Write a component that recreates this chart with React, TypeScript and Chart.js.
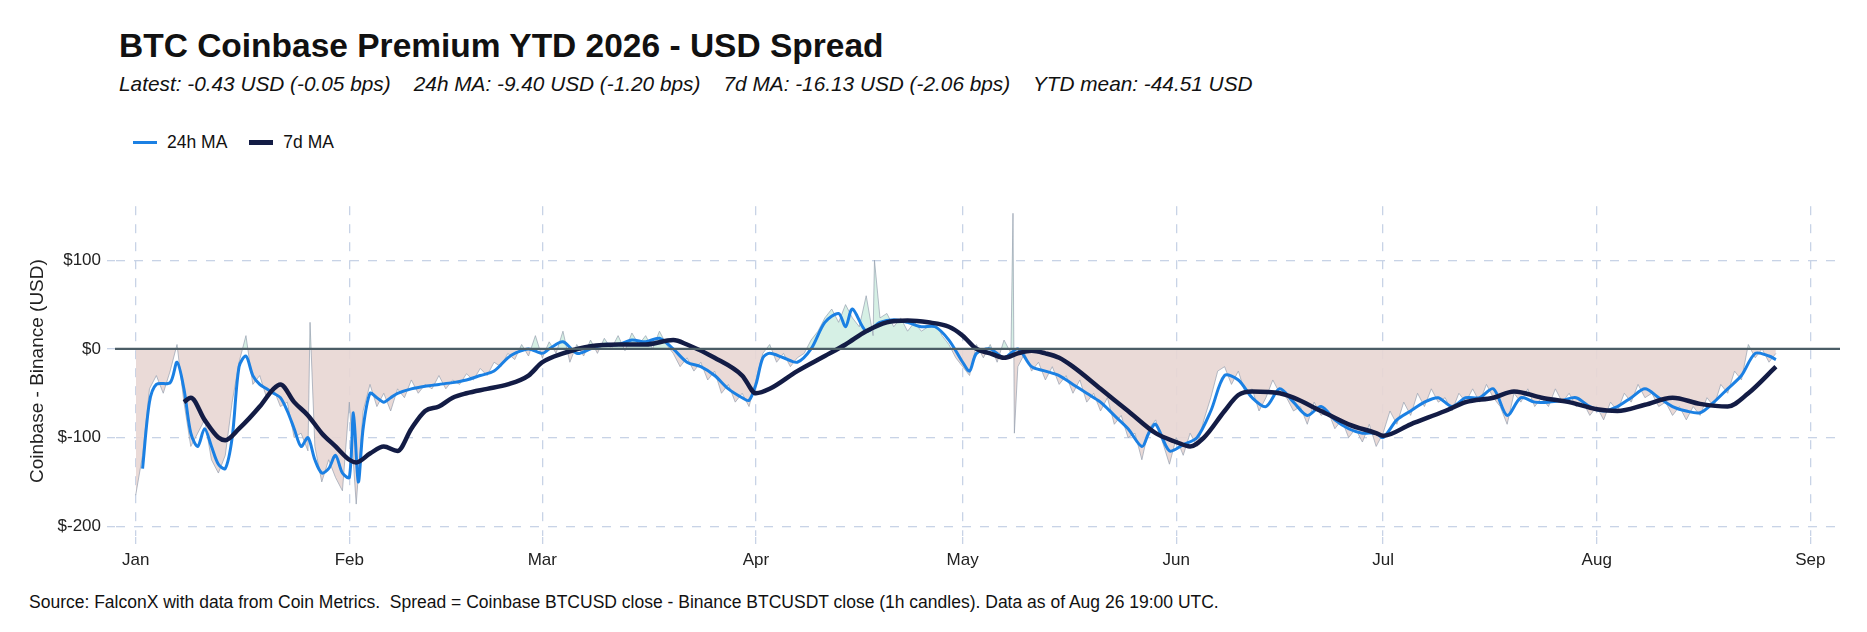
import React, { useEffect, useRef } from "react";
import { Chart, registerables } from "chart.js";
Chart.register(...registerables);

const monthLabels = ["Jan", "Feb", "Mar", "Apr", "May", "Jun", "Jul", "Aug", "Sep"];
const monthDays = [0, 31, 59, 90, 120, 151, 181, 212, 243];
const yTicks = [-200, -100, 0, 100];

const rawVals = [-165,-120,-45,-30,-50,-25,5,-60,-110,-95,-80,-125,-140,-120,-60,-15,15,-40,-30,-55,-45,-65,-60,-100,-95,-115,-110,-150,-125,-145,-160,-60,-175,-70,-40,-65,-50,-70,-45,-55,-35,-50,-40,-45,-30,-45,-35,-40,-28,-35,-22,-30,-15,-20,-5,-12,5,-8,15,-10,8,-5,20,-15,5,-8,10,-5,12,0,15,-2,18,5,15,0,20,5,-5,-20,-10,-25,-15,-35,-25,-50,-40,-60,-50,-65,-35,-5,5,-15,-5,-20,-10,-5,10,20,35,45,30,50,35,25,60,15,35,40,25,35,20,30,20,25,30,15,5,-10,-20,-30,5,-10,5,-15,10,-5,-20,-5,-25,-15,-35,-20,-40,-30,-50,-35,-60,-50,-70,-55,-85,-75,-100,-95,-125,-90,-80,-105,-130,-100,-120,-95,-110,-80,-55,-25,-20,-40,-25,-50,-45,-70,-55,-35,-50,-55,-70,-65,-85,-60,-75,-70,-90,-80,-100,-90,-105,-85,-110,-95,-70,-85,-60,-75,-50,-65,-45,-60,-55,-70,-50,-60,-45,-60,-40,-55,-65,-85,-50,-60,-45,-65,-55,-65,-45,-60,-50,-65,-60,-75,-65,-80,-60,-70,-50,-60,-40,-55,-50,-65,-60,-75,-65,-80,-65,-75,-55,-65,-40,-50,-25,-35,5,-10,0,-15,-5];
const spikeDays = [25.3, 107.2, 127.3, 127.5];
const spikeVals = [30, 100, 153, -95];

const ma24Days = [1,2,3,5,6,7,8,9,10,11,12,13,14,15,16,17,18,19,20,21,22,23,24,25,26,27,28,29,30,31,31.6,32.3,33,34,35,36,37,38,40,42,44,46,48,50,52,54,55,57,59,60,62,64,66,68,70,72,74,76,78,80,82,84,86,88,89,90,91,92,94,96,98,100,102,103,104,106,108,110,112,114,116,118,120,121,122,124,126,128,130,132,134,136,138,140,142,144,146,147,148,150,152,154,156,158,160,162,164,166,168,170,172,174,176,178,180,181,183,185,187,189,191,193,195,197,199,201,203,205,207,209,211,213,215,217,219,221,223,225,227,229,231,233,235,237,238];
const ma24Vals = [-135,-60,-40,-38,-15,-45,-95,-110,-90,-110,-130,-135,-100,-20,-8,-30,-40,-45,-50,-55,-70,-90,-110,-100,-125,-140,-135,-120,-140,-145,-72,-150,-90,-50,-55,-60,-55,-50,-45,-42,-40,-38,-35,-30,-25,-10,-5,0,-5,0,8,-5,0,5,5,10,8,12,0,-15,-20,-30,-45,-55,-58,-40,-10,-5,-10,-15,0,30,40,25,45,20,30,33,30,25,25,10,-15,-25,-5,0,-10,0,-20,-25,-30,-40,-50,-60,-75,-90,-110,-95,-85,-115,-108,-100,-70,-30,-35,-55,-65,-45,-60,-75,-65,-80,-90,-95,-95,-100,-80,-70,-60,-55,-65,-55,-55,-45,-75,-55,-60,-60,-58,-55,-65,-70,-65,-55,-45,-55,-65,-70,-72,-60,-45,-30,-5,-8,-12];

const ma7Days = [7,8,10,12,13,15,18,20,21,23,25,27,29,31,32,34,36,38,40,42,44,46,48,51,54,57,59,62,66,70,74,78,80,84,88,90,92,96,100,103,106,109,112,115,118,120,122,124,126,128,130,132,134,136,140,144,148,151,153,155,158,160,162,166,168,172,176,180,181,185,190,193,197,200,204,208,212,215,219,223,227,231,234,238];
const ma7Vals = [-60,-55,-80,-100,-103,-90,-65,-45,-40,-60,-75,-95,-110,-125,-128,-118,-110,-115,-90,-70,-65,-55,-50,-45,-40,-30,-15,-5,3,5,5,10,5,-10,-30,-50,-45,-25,-8,5,20,30,32,30,25,15,0,-5,-10,-5,-2,-5,-10,-20,-45,-70,-95,-105,-110,-100,-70,-52,-48,-50,-55,-70,-85,-95,-98,-85,-70,-60,-55,-48,-55,-60,-68,-70,-63,-55,-62,-65,-50,-20];

const FONT = "Arial, 'Liberation Sans', Helvetica, sans-serif";

export default function App() {
  const ref = useRef<HTMLCanvasElement>(null);
  useEffect(() => {
    const raw = rawVals.map((v, i) => ({ x: i, y: v }));
    spikeDays.forEach((d, i) => raw.push({ x: d, y: spikeVals[i] }));
    raw.sort((a, b) => a.x - b.x);
    const gridOpts = { color: "#c8d3e6", lineWidth: 1.3, tickLength: 8 };
    const borderOpts = { display: true, color: "rgba(0,0,0,0)", dash: [9, 9] };
    const chart = new Chart(ref.current!, {
      type: "line",
      data: {
        datasets: [
          { label: "zero", data: [{ x: -3, y: 0 }, { x: 248, y: 0 }], borderColor: "#4b5d66", borderWidth: 2.2, pointRadius: 0, order: 0 },
          { label: "7d MA", data: ma7Days.map((d, i) => ({ x: d, y: ma7Vals[i] })), borderColor: "#131c45", borderWidth: 4.5, pointRadius: 0, tension: 0.4, cubicInterpolationMode: "monotone", order: 1 },
          { label: "24h MA", data: ma24Days.map((d, i) => ({ x: d, y: ma24Vals[i] })), borderColor: "#1b80e3", borderWidth: 3, pointRadius: 0, tension: 0.3, order: 2 },
          { label: "raw", data: raw, borderColor: "rgba(150,160,175,0.7)", borderWidth: 1, pointRadius: 0, fill: { target: "origin", above: "rgba(200,235,220,0.75)", below: "rgba(232,214,211,0.9)" }, order: 3 },
        ],
      },
      options: {
        animation: false,
        responsive: false,
        layout: { padding: { top: 13, right: 20, left: 0, bottom: 0 } },
        plugins: { legend: { display: false }, tooltip: { enabled: false } },
        scales: {
          x: {
            type: "linear", min: -3, max: 247.3,
            afterBuildTicks: (s: any) => { s.ticks = monthDays.map((v) => ({ value: v })); },
            afterFit: (s: any) => { s.height = 44; },
            ticks: { callback: (v: any) => monthLabels[monthDays.indexOf(Number(v))] ?? "", font: { size: 17, family: FONT }, color: "#222", padding: 6, maxRotation: 0, autoSkip: false },
            grid: gridOpts,
            border: borderOpts,
          },
          y: {
            min: -211, max: 161,
            afterBuildTicks: (s: any) => { s.ticks = yTicks.map((v) => ({ value: v })); },
            afterFit: (s: any) => { s.width = 93; },
            ticks: { callback: (v: any) => "$" + v, font: { size: 17, family: FONT }, color: "#222", padding: 6 },
            grid: gridOpts,
            border: borderOpts,
            title: { display: true, text: "Coinbase - Binance (USD)", font: { size: 19, family: FONT }, color: "#222", padding: 4 },
          },
        },
      },
    } as any);
    return () => chart.destroy();
  }, []);
  return (
    <div style={{ position: "absolute", left: 0, top: 0, width: 1867, height: 632, background: "#fff", fontFamily: FONT, color: "#111" }}>
      <div style={{ position: "absolute", left: 119, top: 27, fontSize: 33.5, fontWeight: "bold" }}>BTC Coinbase Premium YTD 2026 - USD Spread</div>
      <div style={{ position: "absolute", left: 119, top: 72, fontSize: 20.8, fontStyle: "italic", whiteSpace: "pre" }}>
        {"Latest: -0.43 USD (-0.05 bps)    24h MA: -9.40 USD (-1.20 bps)    7d MA: -16.13 USD (-2.06 bps)    YTD mean: -44.51 USD"}
      </div>
      <div style={{ position: "absolute", left: 133, top: 132, fontSize: 17.5, display: "flex", alignItems: "center" }}>
        <span style={{ display: "inline-block", width: 24, height: 3, background: "#1b80e3", marginRight: 10 }} />
        <span style={{ marginRight: 22 }}>24h MA</span>
        <span style={{ display: "inline-block", width: 24, height: 5, background: "#131c45", marginRight: 10 }} />
        <span>7d MA</span>
      </div>
      <canvas ref={ref} width={1838} height={390} style={{ position: "absolute", left: 22, top: 190, width: 1838, height: 390 }} />
      <div style={{ position: "absolute", left: 29, top: 592, fontSize: 17.5, whiteSpace: "pre" }}>
        {"Source: FalconX with data from Coin Metrics.  Spread = Coinbase BTCUSD close - Binance BTCUSDT close (1h candles). Data as of Aug 26 19:00 UTC."}
      </div>
    </div>
  );
}
